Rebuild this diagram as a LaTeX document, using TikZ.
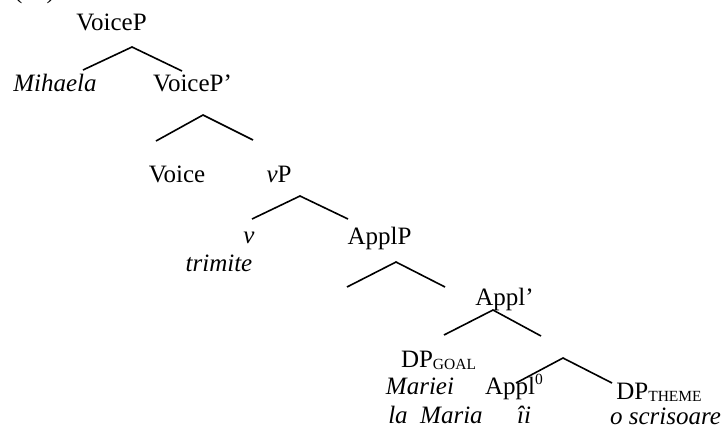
\documentclass[tikz,border=0pt]{standalone}
\usepackage{fontspec}
\setmainfont{Liberation Serif}
\newcommand{\mysub}[1]{\raisebox{-2.5pt}{\fontsize{15.5}{15.5}\selectfont #1}}
\newcommand{\mysup}[1]{\raisebox{9.5pt}{\fontsize{15.5}{15.5}\selectfont #1}}
\begin{document}
\begin{tikzpicture}[x=1pt,y=-1pt,
  lbl/.style={anchor=base, inner sep=0pt, font=\fontsize{25}{28}\selectfont},
  ilbl/.style={lbl, font=\fontsize{25}{28}\selectfont\itshape},
  edge/.style={line width=1.6pt}]
\useasboundingbox (0,0) rectangle (722,429);
% example number (cut off at top)
\node[lbl] (num) at (34.5,-2) {(\hspace{24pt})};
% labels
\node[lbl]  (voicep)  at (111.5,30) {VoiceP};
\node[ilbl] (mihaela) at (55,91) {Mihaela};
\node[lbl]  (voicepb) at (192.5,91) {VoiceP'};
\node[lbl]  (voice)   at (177,182) {Voice};
\node[lbl]  (vp)      at (279,182) {\textit{v}P};
\node[ilbl] (v)       at (249,243) {v};
\node[ilbl] (trimite) at (219,271) {trimite};
\node[lbl]  (applp)   at (379.5,244) {ApplP};
\node[lbl]  (applb)   at (504.5,305) {Appl'};
\node[lbl]  (dpgoal)  at (438.5,367) {DP\mysub{GOAL}};
\node[ilbl] (mariei)  at (420,394) {Mariei};
\node[lbl]  (appl0)   at (514,394) {Appl\mysup{0}};
\node[lbl]  (dptheme) at (659,399) {DP\mysub{THEME}};
\node[ilbl] (lamaria) at (435.5,423) {la\ \ Maria};
\node[ilbl] (ii)      at (524,423) {îi};
\node[ilbl] (scris)   at (665.5,424) {o scrisoare};
% branch points
\coordinate (a1) at (132,47);  \coordinate (l1) at (83,70);   \coordinate (r1) at (182,71);
\coordinate (a2) at (203,115); \coordinate (l2) at (156,141); \coordinate (r2) at (253,140);
\coordinate (a3) at (300,196); \coordinate (l3) at (252,219); \coordinate (r3) at (348,219);
\coordinate (a4) at (396,262); \coordinate (l4) at (347,287); \coordinate (r4) at (445,287);
\coordinate (a5) at (493,310); \coordinate (l5) at (444,335); \coordinate (r5) at (541,336);
\coordinate (a6) at (563,358); \coordinate (l6) at (516,383); \coordinate (r6) at (612,383);
\foreach \i in {1,...,6} {\draw[edge] (l\i) -- (a\i) -- (r\i);}
\end{tikzpicture}
\end{document}
